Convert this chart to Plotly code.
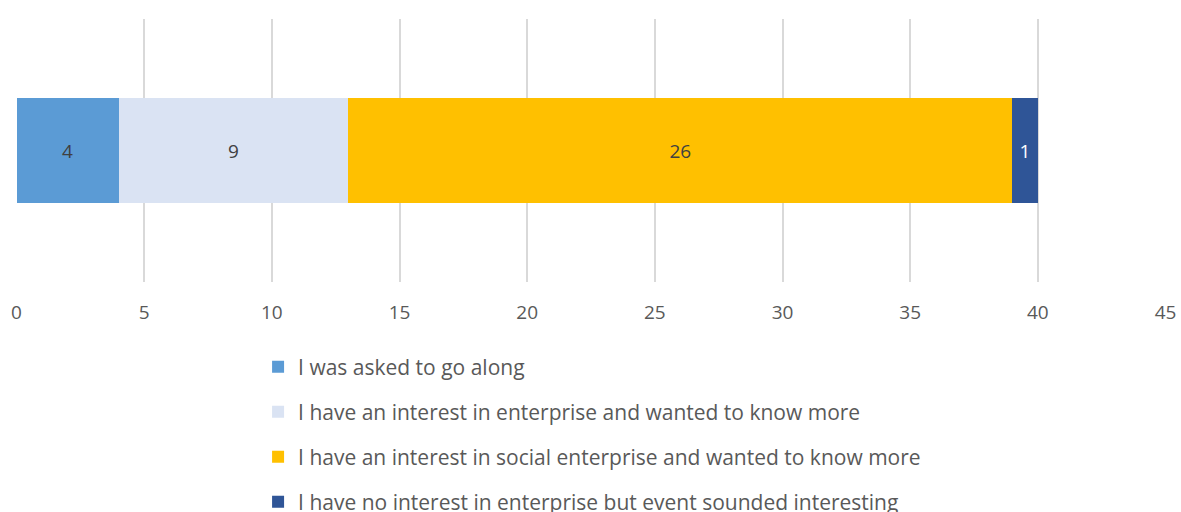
import plotly.graph_objects as go

category = ["Response"]
series_names = [
    "I was asked to go along",
    "I have an interest in enterprise and wanted to know more",
    "I have an interest in social enterprise and wanted to know more",
    "I have no interest in enterprise but event sounded interesting",
]
series_values = [4, 9, 26, 1]
series_colors = ["#5B9BD5", "#DAE3F3", "#FFC000", "#2F5597"]
label_colors = ["#404040", "#404040", "#404040", "#FFFFFF"]
x_ticks = [0, 5, 10, 15, 20, 25, 30, 35, 40, 45]

FONT = "Open Sans"
FS = 19
LEG_FS = 21

fig = go.Figure()
for i, (name, val, col, lc) in enumerate(zip(series_names, series_values, series_colors, label_colors)):
    fig.add_trace(go.Bar(
        y=category, x=[val], name=name, orientation="h",
        marker=dict(color=col, line=dict(width=0)),
        text=[str(val)], textposition="inside", insidetextanchor="middle",
        textfont=dict(color=lc, size=FS, family=FONT),
        width=0.403, legendgroup=f"g{i}",
    ))

fig.update_layout(
    barmode="stack",
    width=1181, height=512,
    margin=dict(l=16, r=15, t=19, b=230, autoexpand=False),
    paper_bgcolor="white", plot_bgcolor="white",
    font=dict(family=FONT, size=FS, color="#595959"),
    showlegend=True,
    legend=dict(
        orientation="v", traceorder="grouped",
        x=0.2105, xanchor="left", y=-0.246, yanchor="top",
        font=dict(family=FONT, size=LEG_FS, color="#595959"),
        tracegroupgap=14.7, itemwidth=30,
    ),
    xaxis=dict(
        range=[-0.02, 45.02], tickvals=x_ticks, ticktext=[str(t) for t in x_ticks],
        showgrid=True, gridcolor="#D9D9D9", gridwidth=1.5,
        zeroline=False, showline=False, ticks="", automargin=False,
        ticklabelstandoff=17,
        tickfont=dict(family=FONT, size=FS, color="#595959"),
    ),
    yaxis=dict(
        range=[-0.5, 0.5], showticklabels=False, showgrid=False,
        zeroline=False, showline=False, ticks="", automargin=False,
    ),
)

fig.write_html("out.html")
